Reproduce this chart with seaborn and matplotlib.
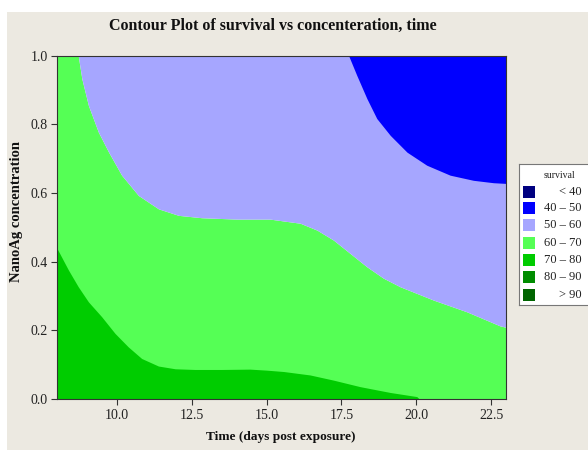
import numpy as np
import matplotlib
matplotlib.use("Agg")
import matplotlib.pyplot as plt
from matplotlib.patches import Rectangle
import seaborn as sns

# ---- data (contour boundaries in data units) ----
# upper edge of the 70-80 region (survival = 70 contour)
time_70 = [8.0, 8.37, 8.70, 9.04, 9.48, 9.93, 10.37, 10.82, 11.38, 11.94, 12.6,
           13.5, 14.44, 15.0, 15.57, 16.45, 17.23, 18.12, 19.13, 20.02, 20.1]
conc_70 = [0.437, 0.376, 0.327, 0.283, 0.240, 0.191, 0.152, 0.118, 0.096, 0.088, 0.086,
           0.086, 0.087, 0.084, 0.080, 0.070, 0.055, 0.036, 0.019, 0.007, 0.0]
# survival = 60 contour (top of the 60-70 region)
time_60 = [8.0, 8.70, 8.82, 9.04, 9.37, 9.71, 10.15, 10.71, 11.38, 12.05, 12.83, 14.0,
           15.11, 15.78, 16.12, 16.68, 17.23, 17.79, 18.35, 18.9, 19.46, 20.58, 21.69,
           22.8, 23.0]
conc_60 = [1.0, 1.0, 0.933, 0.855, 0.778, 0.72, 0.652, 0.593, 0.554, 0.535, 0.528, 0.524,
           0.524, 0.516, 0.512, 0.492, 0.463, 0.424, 0.385, 0.352, 0.327, 0.288, 0.254,
           0.213, 0.209]
# survival = 50 contour (bottom of the 40-50 region)
time_50 = [17.74, 18.01, 18.35, 18.68, 19.13, 19.69, 20.35, 21.13, 21.91, 22.58, 23.0]
conc_50 = [1.0, 0.943, 0.875, 0.817, 0.768, 0.719, 0.681, 0.652, 0.637, 0.630, 0.628]

legend_labels = ["< 40", "40 \u2013 50", "50 \u2013 60", "60 \u2013 70",
                 "70 \u2013 80", "80 \u2013 90", "> 90"]
legend_colors = ["#000080", "#0000FF", "#A6A6FF", "#55FF55",
                 "#00CC00", "#008C00", "#006400"]

x_ticks = [10.0, 12.5, 15.0, 17.5, 20.0, 22.5]
y_ticks = [0.0, 0.2, 0.4, 0.6, 0.8, 1.0]
x_limits = (8.0, 23.0)
y_limits = (0.0, 1.0)

title = "Contour Plot of survival vs concenteration, time"
x_label = "Time (days post exposure)"
y_label = "NanoAg concentration"

# ---- style ----
sns.set_theme(style="ticks")
plt.rcParams["font.family"] = ["Liberation Serif", "DejaVu Serif"]
plt.rcParams["axes.linewidth"] = 0.8

W, H = 588, 450
fig = plt.figure(figsize=(W / 100, H / 100), dpi=100, facecolor="white")
bg = "#ECE9E1"
fig.patches.append(Rectangle((7 / W, 0), 1 - 7 / W, 1 - 12 / H,
                             transform=fig.transFigure, facecolor=bg,
                             edgecolor="none", zorder=-10))

left, right, top, bottom = 57.3, 506, 55.7, 399
ax = fig.add_axes([left / W, 1 - bottom / H, (right - left) / W, (bottom - top) / H])

c_50_60 = legend_colors[2]
c_60_70 = legend_colors[3]
c_70_80 = legend_colors[4]
c_40_50 = legend_colors[1]

kw = dict(linewidth=0, antialiased=False)
ax.fill_between(time_60, 0.0, conc_60, color=c_60_70, **kw)
ax.fill_between(time_60, conc_60, 1.0, color=c_50_60, **kw)
ax.fill_between(time_50, conc_50, 1.0, color=c_40_50, **kw)
ax.fill_between(time_70, 0.0, conc_70, color=c_70_80, **kw)

ax.set_xlim(*x_limits)
ax.set_ylim(*y_limits)
ax.set_xticks(x_ticks)
ax.set_xticklabels([f"{v:.1f}" for v in x_ticks])
ax.set_yticks(y_ticks)
ax.set_yticklabels([f"{v:.1f}" for v in y_ticks])
ax.tick_params(axis="both", direction="out", length=4, width=0.8,
               color="#333333", labelcolor="#222222", labelsize=10, pad=3)
for s in ax.spines.values():
    s.set_color("#333333")
    s.set_linewidth(0.8)

fig.text(273 / W, 1 - 26 / H, title, ha="center", va="center",
         fontsize=11.5, fontweight="bold", color="#111111")
fig.text(281 / W, 1 - 437 / H, x_label, ha="center", va="center",
         fontsize=9.6, fontweight="bold", color="#111111")
fig.text(17 / W, 1 - 211 / H, y_label, ha="center", va="center", rotation=90,
         fontsize=10.5, fontweight="bold", color="#111111")

# ---- legend (clipped by the right edge as in the reference) ----
lx0, ly0, lx1, ly1 = 519, 164, 600, 305
lax = fig.add_axes([lx0 / W, 1 - ly1 / H, (lx1 - lx0) / W, (ly1 - ly0) / H])
lax.set_xlim(0, lx1 - lx0)
lax.set_ylim(ly1 - ly0, 0)
lax.set_xticks([])
lax.set_yticks([])
lax.set_facecolor("white")
for s in lax.spines.values():
    s.set_color("#777777")
    s.set_linewidth(0.8)
lax.text(41, 11, "survival", ha="center", va="center", fontsize=7, color="#222222")
row_y = [27.7, 44.3, 61.0, 79.0, 96.0, 113.0, 131.0]
for yy, lab, col in zip(row_y, legend_labels, legend_colors):
    lax.add_patch(Rectangle((4, yy - 6), 12, 12, facecolor=col, edgecolor="none"))
    lax.text(63, yy, lab, ha="right", va="center", fontsize=9, color="#222222")

fig.savefig("out.png", dpi=100, facecolor=fig.get_facecolor())
